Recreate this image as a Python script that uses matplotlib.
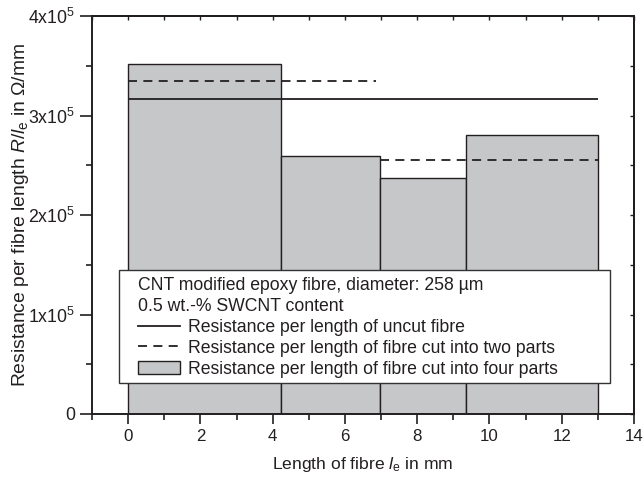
import matplotlib
matplotlib.use("Agg")
import matplotlib.pyplot as plt
from matplotlib.patches import Rectangle, Patch
from matplotlib.lines import Line2D
from matplotlib.ticker import MultipleLocator, FuncFormatter

plt.rcParams['font.family'] = ['Liberation Sans', 'DejaVu Sans']
plt.rcParams['mathtext.fontset'] = 'custom'
plt.rcParams['mathtext.rm'] = 'Liberation Sans'
plt.rcParams['mathtext.it'] = 'Liberation Sans:italic'
plt.rcParams['mathtext.default'] = 'rm'

# ---- data ----
bar_edges = [0.0, 4.22, 6.96, 9.36, 13.0]
bar_heights = [3.515e5, 2.59e5, 2.37e5, 2.80e5]

uncut_x = [0.0, 13.0]
uncut_y = 3.17e5

two_parts_x = [(0.0, 6.85), (6.96, 13.0)]
two_parts_y = [3.35e5, 2.555e5]

header_lines = ["CNT modified epoxy fibre, diameter: 258 \u00b5m", "0.5 wt.-% SWCNT content"]
legend_labels = ["Resistance per length of uncut fibre",
                 "Resistance per length of fibre cut into two parts",
                 "Resistance per length of fibre cut into four parts"]

FS = 12.7
dark = '#231f20'
grey = '#c6c7c9'

fig = plt.figure(figsize=(6.44, 4.79), dpi=100)
ax = fig.add_axes([92/644, 65/479, 542/644, 398/479])

lefts = bar_edges[:-1]
widths = [b - a for a, b in zip(bar_edges[:-1], bar_edges[1:])]
ax.bar(lefts, bar_heights, width=widths, align='edge', color=grey,
       edgecolor=dark, linewidth=1.0, zorder=2)

ax.hlines(uncut_y, uncut_x[0], uncut_x[1], colors=dark, linewidth=1.3, zorder=3)
for (x0, x1), y in zip(two_parts_x, two_parts_y):
    ax.hlines(y, x0, x1, colors=dark, linewidth=1.3, linestyles=(0, (5, 3.5)), zorder=3)

ax.set_xlim(-1, 14)
ax.set_ylim(0, 4e5)

ax.xaxis.set_major_locator(MultipleLocator(2))
ax.xaxis.set_minor_locator(MultipleLocator(1))
ax.yaxis.set_major_locator(MultipleLocator(1e5))
ax.yaxis.set_minor_locator(MultipleLocator(0.5e5))

def yfmt(v, pos):
    n = int(round(v / 1e5))
    if n == 0:
        return "0"
    return "%dx10$^{5}$" % n

ax.yaxis.set_major_formatter(FuncFormatter(yfmt))

ax.tick_params(axis='both', which='major', direction='out', length=7, width=1.2,
               colors=dark, pad=4)
ax.tick_params(axis='x', which='major', labelsize=12.2)
ax.tick_params(axis='both', which='minor', direction='out', length=4, width=1.2, colors=dark)
ax.tick_params(axis='y', which='major', length=9, pad=3, labelsize=12.8)

for s in ax.spines.values():
    s.set_linewidth(1.4)
    s.set_color(dark)

# top / right inward ticks
secx = ax.secondary_xaxis('top')
secx.xaxis.set_major_locator(MultipleLocator(1))
secx.tick_params(direction='in', length=3, width=1.0, labeltop=False, colors=dark)
secx.spines['top'].set_linewidth(1.4)
secy = ax.secondary_yaxis('right')
secy.yaxis.set_major_locator(MultipleLocator(0.5e5))
secy.tick_params(direction='in', length=3, width=1.0, labelright=False, colors=dark)
secy.spines['right'].set_linewidth(1.4)

ax.set_xlabel("Length of fibre $\\mathit{l}_{e}$ in mm", fontsize=12.6, color=dark, labelpad=8)
ax.set_ylabel("Resistance per fibre length $\\mathit{R/l}_{e}$ in \u03a9/mm", fontsize=13.9,
              color=dark)
ax.yaxis.set_label_coords(-0.112, 0.5)

# legend frame
frame = Rectangle((0.0498, 0.078), 0.906, 0.284, transform=ax.transAxes,
                  facecolor='white', edgecolor='#333333', linewidth=1.0, zorder=4)
ax.add_patch(frame)

handles = [Line2D([], [], color=dark, linewidth=1.3),
           Line2D([], [], color=dark, linewidth=1.3, linestyle=(0, (5, 3.5))),
           Patch(facecolor=grey, edgecolor=dark, linewidth=1.0)]
leg = ax.legend(handles, legend_labels, title="\n".join(header_lines),
                loc='upper left', bbox_to_anchor=(0.0849, 0.343),
                frameon=False, fontsize=FS, title_fontsize=FS, alignment='left',
                borderpad=0, borderaxespad=0, handlelength=2.4, handletextpad=0.45,
                labelspacing=0.22, handleheight=0.8)
leg.set_zorder(5)
leg.get_title().set_linespacing(1.28)
for t in leg.get_texts():
    t.set_color(dark)
leg.get_title().set_color(dark)

fig.savefig("out.png", dpi=100)
